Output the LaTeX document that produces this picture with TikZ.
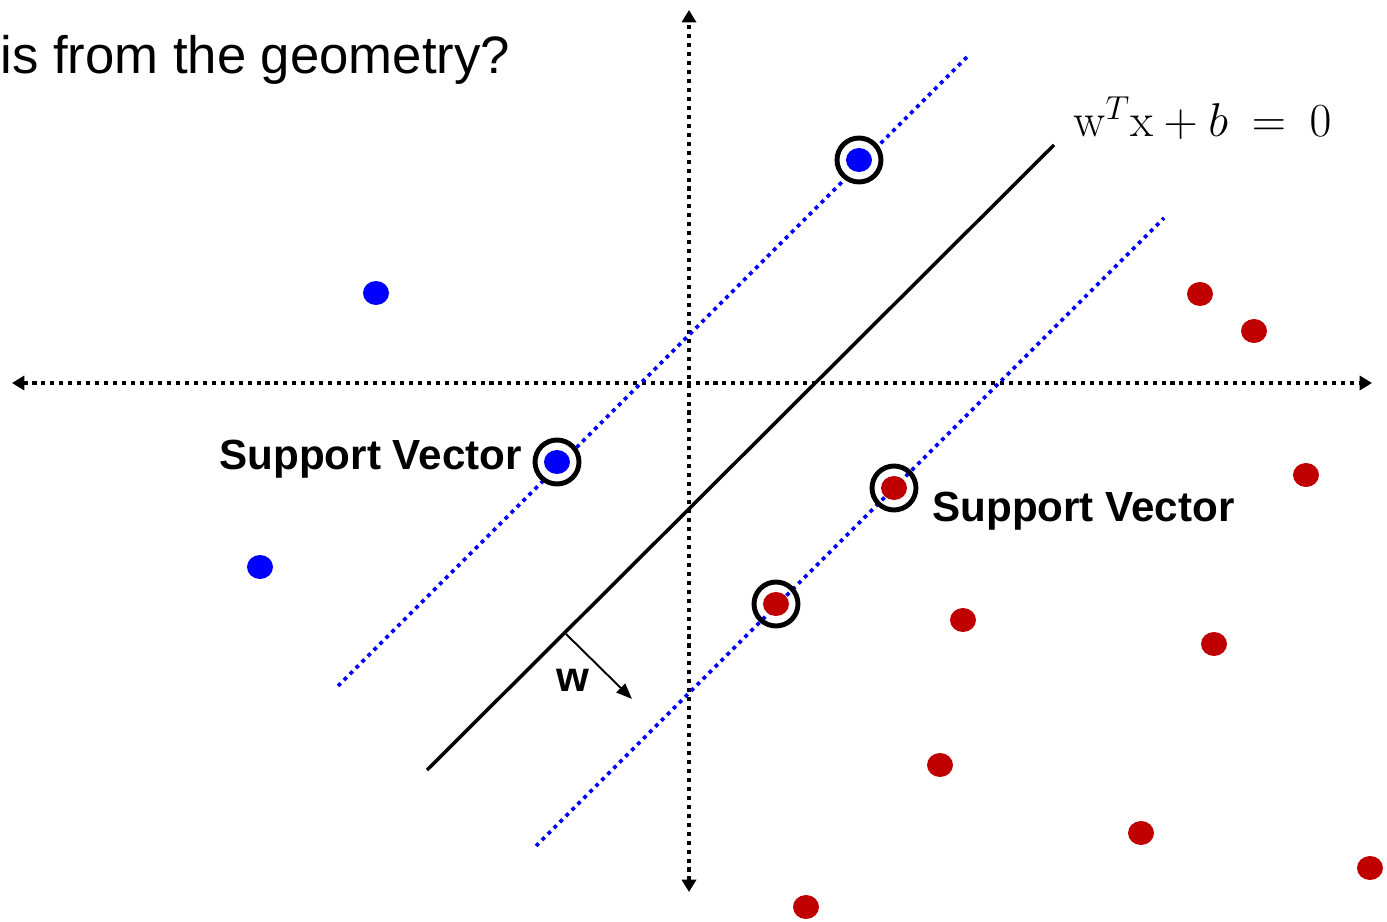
\RequirePackage{fix-cm}
\documentclass[tikz,border=0pt]{standalone}
\usepackage[no-math]{fontspec}
\usepackage{amsmath}
\setmainfont{Liberation Sans}
\usetikzlibrary{arrows.meta,shapes.geometric}
\definecolor{svmblue}{HTML}{0000FF}
\definecolor{svmred}{HTML}{C00000}

\begin{document}
\begin{tikzpicture}[
  x=0.02cm,
  y=-0.02cm,
  every node/.style={inner sep=0pt},
  axis/.style={black, line width=2.3pt, dash pattern=on 2.3pt off 2.8pt,
               {Triangle[length=7pt,width=8pt]}-{Triangle[length=7pt,width=8pt]}},
  margin/.style={svmblue, line width=2.2pt, dash pattern=on 2.2pt off 2.6pt},
  boundary/.style={black, line width=2pt},
  bluept/.style={ellipse, fill=svmblue, minimum width=0.52cm, minimum height=0.48cm},
  redpt/.style={ellipse, fill=svmred, minimum width=0.52cm, minimum height=0.48cm},
  ring/.style={circle, draw=black, fill=white, line width=2.8pt, minimum size=0.88cm},
  svlabel/.style={font=\fontsize{24}{28}\selectfont\bfseries}
]
  \useasboundingbox (0,0) rectangle (1387,922);

  %% ---- title -------------------------------------------------------------
  \node[anchor=base west, font=\fontsize{30}{36}\selectfont] (title) at (0,74)
    {is from the geometry?};

  %% ---- axes --------------------------------------------------------------
  \coordinate (xl) at (12,383);  \coordinate (xr) at (1372,383);
  \coordinate (yt) at (689,10);  \coordinate (yb) at (689,892);
  \draw[axis] (xl) -- (xr);
  \draw[axis] (yb) -- (yt);

  %% ---- margins and decision boundary -------------------------------------
  \coordinate (m1a) at (338,686);  \coordinate (m1b) at (967,57);
  \coordinate (m2a) at (536,846);  \coordinate (m2b) at (1164,218);
  \coordinate (ha)  at (427,770);  \coordinate (hb)  at (1054,145);
  \draw[margin] (m1a) -- (m1b);
  \draw[margin] (m2a) -- (m2b);
  \draw[boundary] (ha) -- (hb);
  \node[anchor=base west, font=\fontsize{27}{32}\selectfont] (eq) at (1073,137)
    {$\mathrm{w}^{T}\mathrm{x} + b \:=\: 0$};

  %% ---- normal vector w ---------------------------------------------------
  \coordinate (wfoot) at (566,634);
  \coordinate (wtip)  at (632,699);
  \draw[line width=1.1pt, -{Triangle[length=9pt,width=7pt]}] (wfoot) -- (wtip);
  \node[svlabel] (wlab) at (573,680) {w};

  %% ---- support vectors (ringed) ------------------------------------------
  \node[ring] (r1) at (859,160) {};
  \node[ring] (r2) at (557,462) {};
  \node[ring, fill=none] (r3) at (894,488) {};
  \node[ring, fill=none] (r4) at (776,604) {};

  %% ---- class +1 (blue) ---------------------------------------------------
  \node[bluept] (b1) at (859,160) {};
  \node[bluept] (b2) at (557,462) {};
  \node[bluept] (b3) at (376,293) {};
  \node[bluept] (b4) at (260,567) {};

  %% ---- class -1 (red) ----------------------------------------------------
  \node[redpt] (p1) at (894,488) {};
  \node[redpt] (p2) at (776,604) {};
  \foreach \px/\py [count=\i from 3] in {1200/294, 1254/331, 1306/475, 963/620,
      1214/644, 940/765, 1141/833, 1370/868, 806/907}
    \node[redpt] (p\i) at (\px,\py) {};

  %% ---- labels ------------------------------------------------------------
  \node[svlabel, anchor=east] (svl) at (522,459) {Support Vector};
  \node[svlabel, anchor=west] (svr) at (932,511) {Support Vector};
\end{tikzpicture}
\end{document}
